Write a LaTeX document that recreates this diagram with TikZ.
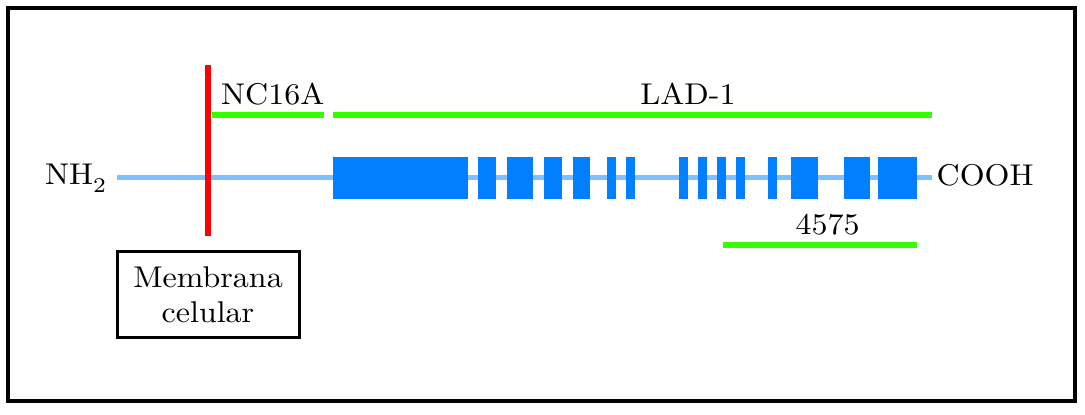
\documentclass[tikz,border=0pt]{standalone}
\usepackage{graphicx}
\definecolor{exonblue}{HTML}{007FFF}
\definecolor{lineblue}{HTML}{80BFFF}
\definecolor{regiongreen}{HTML}{33FF00}
\newcommand{\bigtxt}[1]{\scalebox{3.2}[3.0]{#1}}
\begin{document}
\begin{tikzpicture}[x=1pt,y=-1pt,
  frame/.style={draw=black,line width=4pt},
  backbone/.style={draw=lineblue,line width=4.5pt},
  exon/.style={fill=exonblue},
  region/.style={draw=regiongreen,line width=5.5pt},
  membrane/.style={draw=red,line width=6pt},
  lbl/.style={inner sep=0pt,font=\fontsize{10}{12}\selectfont},
  boxstyle/.style={draw=black,line width=3.3pt,inner sep=0pt,minimum width=182.4pt,minimum height=86pt}]
\useasboundingbox (0,0) rectangle (1085,415);
\draw[frame] (8,8) rectangle (1075,401);
% backbone
\coordinate (bbL) at (117,177.5);
\coordinate (bbR) at (932,177.5);
\draw[backbone] (bbL) -- (bbR);
% exons
\foreach \a/\b in {333/468,478/496,507/533,544/562,573/590,607/616,626/635,679/688,698/707,717/726,736/745,768/777,791/818,844/870,878/917}
  \fill[exon] (\a,157) rectangle (\b,199);
% membrane
\coordinate (memT) at (208,65);
\coordinate (memB) at (208,236);
\draw[membrane] (memT) -- (memB);
% regions
\coordinate (ncL) at (212,115); \coordinate (ncR) at (324,115);
\coordinate (ladL) at (333,115); \coordinate (ladR) at (932,115);
\coordinate (fL) at (723,245); \coordinate (fR) at (917,245);
\draw[region] (ncL) -- (ncR);
\draw[region] (ladL) -- (ladR);
\draw[region] (fL) -- (fR);
% labels
\node[lbl,anchor=base west] (nh2) at (45,184.3) {\bigtxt{NH\raisebox{-2.8pt}{\fontsize{7}{8}\selectfont 2}}};
\node[lbl,anchor=base west] (cooh) at (936.5,185.5) {\bigtxt{COOH}};
\node[lbl,anchor=base west] (nc16a) at (221,104) {\bigtxt{NC16A}};
\node[lbl,anchor=base] (lad1) at (688,104) {\bigtxt{LAD-1}};
\node[lbl,anchor=base] (f4575) at (827.5,234) {\bigtxt{4575}};
% membrane box
\node[boxstyle] (membox) at (208.5,294.7) {};
\node[lbl,anchor=base] (mem1) at (208,287.7) {\bigtxt{Membrana}};
\node[lbl,anchor=base] (mem2) at (208,322) {\bigtxt{celular}};
\end{tikzpicture}
\end{document}
